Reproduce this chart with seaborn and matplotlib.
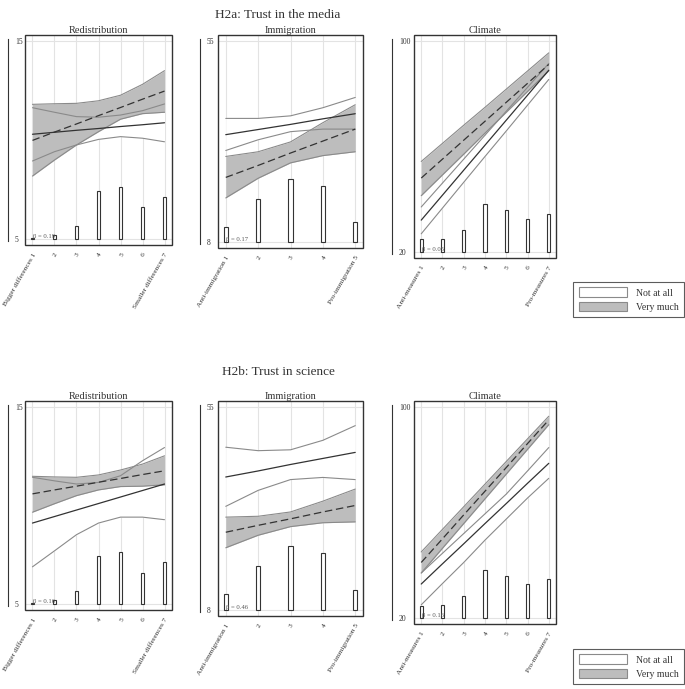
import numpy as np
import pandas as pd
import seaborn as sns
import matplotlib.pyplot as plt
from matplotlib.patches import Patch, Rectangle

# categories on the x axes
redis_x = [1, 2, 3, 4, 5, 6, 7]
immig_x = [1, 2, 3, 4, 5]
clim_x = [1, 2, 3, 4, 5, 6, 7]

redis_labels = ["Bigger differences 1", "2", "3", "4", "5", "6", "Smaller differences 7"]
immig_labels = ["Anti-immigration 1", "2", "3", "4", "Pro-immigration 5"]
clim_labels = ["Anti-measures 1", "2", "3", "4", "5", "6", "Pro-measures 7"]

# distribution of answers (bar tops, in y units)
redis_bars = [5.07, 5.22, 5.67, 7.44, 7.63, 6.60, 7.12]
immig_bars = [11.6, 18.1, 22.8, 21.2, 12.6]
clim_bars_media = [24.7, 24.9, 28.4, 38.0, 35.9, 32.6, 34.5]
clim_bars_sci = [24.6, 24.9, 28.4, 38.2, 36.0, 32.8, 34.7]

# H2a: trust in the media
media_redis_none = [10.29, 10.39, 10.49, 10.58, 10.68, 10.77, 10.87]
media_redis_none_hi = [11.63, 11.40, 11.18, 11.15, 11.26, 11.48, 11.82]
media_redis_none_lo = [8.94, 9.41, 9.75, 10.03, 10.17, 10.09, 9.91]
media_redis_much = [9.98, 10.40, 10.81, 11.23, 11.64, 12.06, 12.47]
media_redis_much_hi = [11.80, 11.83, 11.85, 11.98, 12.26, 12.81, 13.50]
media_redis_much_lo = [8.18, 8.99, 9.75, 10.42, 11.05, 11.33, 11.40]

media_immig_none = [33.1, 34.3, 35.5, 36.8, 38.0]
media_immig_none_hi = [36.9, 36.9, 37.5, 39.4, 41.8]
media_immig_none_lo = [29.4, 31.9, 33.8, 34.4, 34.4]
media_immig_much = [23.1, 25.9, 28.8, 31.6, 34.4]
media_immig_much_hi = [28.0, 29.1, 31.4, 35.9, 40.1]
media_immig_much_lo = [18.3, 22.9, 26.5, 28.2, 29.1]

media_clim_none = [32.0, 41.5, 51.0, 60.5, 70.0, 79.5, 89.0]
media_clim_none_hi = [37.0, 46.1, 55.2, 64.3, 73.4, 82.5, 91.6]
media_clim_none_lo = [26.8, 36.6, 46.4, 56.2, 65.9, 75.7, 85.5]
media_clim_much = [48.0, 55.2, 62.4, 69.6, 76.8, 84.0, 91.2]
media_clim_much_hi = [54.3, 61.2, 68.1, 74.9, 81.8, 88.7, 95.6]
media_clim_much_lo = [41.3, 49.2, 57.1, 65.1, 73.0, 80.9, 88.8]

# H2b: trust in science
sci_redis_none = [9.11, 9.44, 9.77, 10.10, 10.43, 10.76, 11.09]
sci_redis_none_hi = [11.43, 11.25, 11.09, 11.17, 11.51, 12.27, 12.94]
sci_redis_none_lo = [6.89, 7.70, 8.52, 9.11, 9.41, 9.41, 9.28]
sci_redis_much = [10.59, 10.79, 10.98, 11.18, 11.37, 11.57, 11.76]
sci_redis_much_hi = [11.48, 11.45, 11.43, 11.55, 11.80, 12.10, 12.52]
sci_redis_much_lo = [9.66, 10.09, 10.50, 10.79, 10.96, 10.98, 11.05]

sci_immig_none = [38.8, 40.2, 41.7, 43.1, 44.5]
sci_immig_none_hi = [45.7, 44.9, 45.1, 47.3, 50.7]
sci_immig_none_lo = [32.0, 35.7, 38.2, 38.7, 38.2]
sci_immig_much = [26.0, 27.6, 29.1, 30.7, 32.2]
sci_immig_much_hi = [29.5, 29.7, 30.7, 33.2, 36.0]
sci_immig_much_lo = [22.4, 25.3, 27.3, 28.2, 28.4]

sci_clim_none = [32.8, 40.5, 48.1, 55.8, 63.4, 71.1, 78.7]
sci_clim_none_hi = [37.0, 44.5, 52.0, 59.5, 67.0, 75.8, 84.7]
sci_clim_none_lo = [24.9, 33.0, 41.0, 49.5, 57.5, 65.5, 73.0]
sci_clim_much = [41.0, 50.0, 59.1, 68.1, 77.1, 86.2, 95.2]
sci_clim_much_hi = [45.0, 53.6, 62.2, 70.8, 79.4, 88.0, 96.6]
sci_clim_much_lo = [37.0, 46.4, 55.8, 65.2, 74.6, 84.0, 93.4]

betas_media = ["0.19", "0.17", "0.05"]
betas_sci = ["0.16", "0.46", "0.16"]

sns.set_style("white")
plt.rcParams['font.family'] = ['Liberation Serif', 'DejaVu Serif']

fig = plt.figure(figsize=(6.85, 6.89), dpi=100)
W, H = 685, 689

FILL = "#bdbdbd"
EDGE = "#8a8a8a"
DARK = "#333333"


def add_ax(x0, top, x1, bottom):
    return fig.add_axes([x0 / W, 1 - bottom / H, (x1 - x0) / W, (bottom - top) / H])


def panel(ax, title, xs, labels, ylo, yhi, none, none_hi, none_lo, much, much_hi, much_lo,
          bars, beta, barw, ax_off):
    span = yhi - ylo
    # detached y axis first (moving the spine resets the ticks)
    for s in ("top", "right", "bottom"):
        ax.spines[s].set_visible(False)
    ax.spines["left"].set_position(("outward", ax_off * 0.72))
    ax.spines["left"].set_color(DARK)
    ax.spines["left"].set_linewidth(0.8)

    ax.set_ylim(ylo - 0.03 * span, yhi + 0.03 * span)
    pad = 0.3 * (len(xs) - 1) / 6 + 0.04
    ax.set_xlim(xs[0] - pad, xs[-1] + pad)

    for x in xs:
        ax.axvline(x, color="#e3e3e3", lw=0.8, zorder=0)
    for y in (ylo, yhi):
        ax.axhline(y, color="#e3e3e3", lw=0.8, zorder=0)

    ax.fill_between(xs, none_lo, none_hi, color="white", lw=0, zorder=1)
    ax.fill_between(xs, much_lo, much_hi, color=FILL, lw=0, zorder=2)
    for ys in (none_hi, none_lo, much_hi, much_lo):
        ax.plot(xs, ys, color=EDGE, lw=0.8, zorder=3)

    df = pd.DataFrame({
        "x": list(xs) * 2,
        "y": list(none) + list(much),
        "group": ["Not at all"] * len(xs) + ["Very much"] * len(xs),
    })
    sns.lineplot(data=df, x="x", y="y", style="group",
                 dashes={"Not at all": "", "Very much": (6, 3)},
                 color=DARK, lw=0.9, legend=False, ax=ax, zorder=4)

    ax.bar(xs, np.array(bars) - ylo, bottom=ylo, width=barw, color="white",
           edgecolor=DARK, lw=0.8, zorder=5)

    ax.text(xs[0] + 0.02, ylo, "β = " + beta, fontsize=4.8, color="#555555",
            va="bottom", ha="left", zorder=6)

    ax.set_title(title, fontsize=7.5, pad=1.5, color=DARK)
    ax.set_xlabel("")
    ax.set_ylabel("")
    ax.set_xticks(xs)
    ax.set_xticklabels(labels, rotation=60, ha="right", rotation_mode="anchor",
                       fontsize=5.3, color=DARK)
    ax.tick_params(axis="x", direction="out", length=3, width=0.6, pad=2, color=DARK)

    ax.set_yticks([ylo, yhi])
    ax.set_yticklabels([f"{ylo:g}", f"{yhi:g}"], fontsize=5.5, color=DARK)
    for lab in ax.get_yticklabels():
        lab.set_horizontalalignment("left")
    ax.tick_params(axis="y", direction="in", length=3, width=0.6, pad=-5, color=DARK)
    ax.spines["left"].set_bounds(ylo - 0.01 * span, yhi + 0.01 * span)

    ax.add_patch(Rectangle((0, 0), 1, 1, transform=ax.transAxes, fill=False,
                           edgecolor=DARK, lw=1.0, clip_on=False, zorder=7))


rows = [
    (35, [245, 248, 258], "H2a: Trust in the media", 15,
     [media_redis_none, media_redis_none_hi, media_redis_none_lo,
      media_redis_much, media_redis_much_hi, media_redis_much_lo],
     [media_immig_none, media_immig_none_hi, media_immig_none_lo,
      media_immig_much, media_immig_much_hi, media_immig_much_lo],
     [media_clim_none, media_clim_none_hi, media_clim_none_lo,
      media_clim_much, media_clim_much_hi, media_clim_much_lo],
     clim_bars_media, betas_media, 282),
    (401, [610, 616, 624], "H2b: Trust in science", 372,
     [sci_redis_none, sci_redis_none_hi, sci_redis_none_lo,
      sci_redis_much, sci_redis_much_hi, sci_redis_much_lo],
     [sci_immig_none, sci_immig_none_hi, sci_immig_none_lo,
      sci_immig_much, sci_immig_much_hi, sci_immig_much_lo],
     [sci_clim_none, sci_clim_none_hi, sci_clim_none_lo,
      sci_clim_much, sci_clim_much_hi, sci_clim_much_lo],
     clim_bars_sci, betas_sci, 649),
]

for top, bottoms, head, head_y, redis, immig, clim, cbars, betas, leg_top in rows:
    ax1 = add_ax(25, top, 172, bottoms[0])
    panel(ax1, "Redistribution", redis_x, redis_labels, 5, 15, *redis,
          redis_bars, betas[0], 0.17, 17)
    ax2 = add_ax(218, top, 363, bottoms[1])
    panel(ax2, "Immigration", immig_x, immig_labels, 8, 55, *immig,
          immig_bars, betas[1], 0.13, 18)
    ax3 = add_ax(414, top, 556, bottoms[2])
    panel(ax3, "Climate", clim_x, clim_labels, 20, 100, *clim,
          cbars, betas[2], 0.16, 22)

    fig.text(278 / W, 1 - head_y / H, head, fontsize=9.5, ha="center", va="center", color=DARK)

    handles = [Patch(facecolor="white", edgecolor=EDGE, lw=0.8),
               Patch(facecolor=FILL, edgecolor=EDGE, lw=0.8)]
    leg = fig.legend(handles, ["Not at all", "Very much"], loc="upper right",
                     bbox_to_anchor=(684 / W, 1 - leg_top / H), fontsize=7,
                     frameon=True, fancybox=False, edgecolor=DARK,
                     handlelength=5.0, handleheight=1.2, borderpad=0.55,
                     labelspacing=0.4, handletextpad=0.9, borderaxespad=0)
    leg.get_frame().set_linewidth(0.8)
    for t in leg.get_texts():
        t.set_color(DARK)

plt.savefig("out.png", dpi=100)
